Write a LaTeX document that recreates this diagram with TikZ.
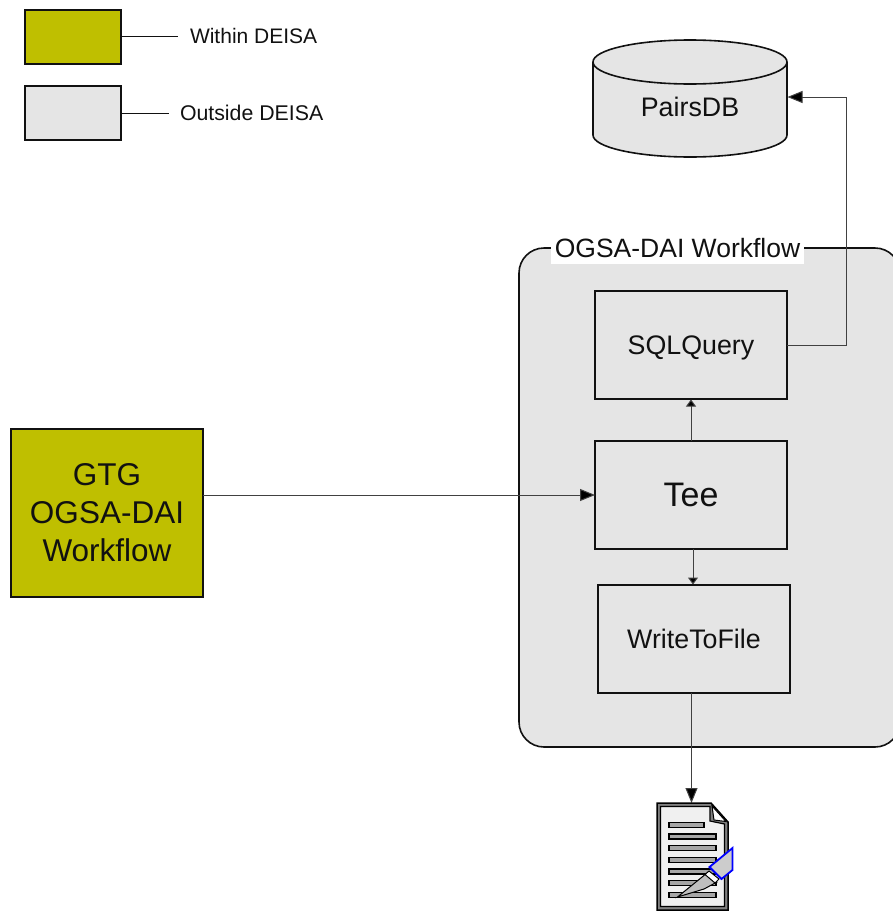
\documentclass[tikz,border=0pt]{standalone}
\usepackage{fontspec}
\setmainfont{Liberation Sans}
\usetikzlibrary{arrows.meta}
\definecolor{olivebox}{HTML}{BFBF00}
\definecolor{graybox}{HTML}{E5E5E5}
\definecolor{ink}{HTML}{111111}
\tikzset{
  x=1pt,y=-1pt,
  boxbase/.style={draw=ink,line width=1.6pt,inner sep=0pt,outer sep=0pt,text=ink,align=center},
  graystep/.style={boxbase,fill=graybox,minimum width=192pt,minimum height=108pt},
  legendolive/.style={boxbase,fill=olivebox,minimum width=96pt,minimum height=54pt},
  legendgray/.style={boxbase,fill=graybox,minimum width=96pt,minimum height=54pt},
  legendtext/.style={inner sep=0pt,outer sep=0pt,text=ink,font=\fontsize{21}{25}\selectfont},
  legendwide/.style={legendtext,font=\fontsize{21.3}{25}\selectfont},
  steptext/.style={font=\fontsize{26.8}{32}\selectfont},
  bigtext/.style={font=\fontsize{31.5}{38}\selectfont},
  teetext/.style={font=\fontsize{34}{40}\selectfont},
  link/.style={draw=ink!80,line width=1pt},
  bigarrow/.style={link,-{Triangle[length=15pt,width=12pt,fill=black]}},
  smallarrow/.style={link,-{Triangle[length=7pt,width=10pt,fill=black]}},
  docline/.style={draw=black,fill=gray!70,line width=1.3pt},
}
\begin{document}
\begin{tikzpicture}
\useasboundingbox (0,0) rectangle (893,911);
% workflow container
\draw[draw=ink,line width=1.6pt,fill=graybox,rounded corners=25pt] (519,248) rectangle (900,747);
\node[fill=white,minimum width=253pt,minimum height=27pt,inner sep=0pt,text=ink,font=\fontsize{26.5}{32}\selectfont] (title) at (677.5,250.5) {\raisebox{5pt}{OGSA-DAI Workflow}};
% legend
\node[legendolive] (legA) at (73,37) {};
\node[legendgray] (legB) at (73,113) {};
\node[legendtext,anchor=west] (legAtext) at (190,36) {Within DEISA};
\node[legendwide,anchor=west] (legBtext) at (180,113) {Outside DEISA};
\coordinate (legAend) at (178,36);
\coordinate (legBend) at (169,113);
\draw[line width=1pt,draw=ink] (legA.east |- legAend) -- (legAend);
\draw[line width=1pt,draw=ink] (legB.east |- legBend) -- (legBend);
% database
\draw[draw=ink,line width=1.6pt,fill=graybox] (593,62) -- (593,135)
  arc[start angle=180,end angle=360,x radius=97,y radius=-22] -- (787,62)
  arc[start angle=0,end angle=180,x radius=97,y radius=-22] -- cycle;
\draw[draw=ink,line width=1.6pt] (593,62) arc[start angle=180,end angle=360,x radius=97,y radius=-22];
\node[inner sep=0pt,text=ink,steptext] (db) at (690,107) {PairsDB};
\coordinate (dbin) at (787.5,97);
% steps
\node[graystep,steptext,text depth=0pt] (sql) at (691,345) {\raisebox{-1pt}{SQLQuery}};
\node[graystep,teetext] (tee) at (691,495) {Tee};
\node[graystep,steptext] (wtf) at (694,639) {WriteToFile};
\node[boxbase,fill=olivebox,minimum width=192pt,minimum height=168pt,bigtext] (gtg) at (107,513) {\raisebox{1pt}{GTG}\\[0pt]\raisebox{1pt}{OGSA-DAI}\\[0pt]\raisebox{1pt}{Workflow}};
% connectors
\coordinate (teeup) at (691,441);
\coordinate (sqldown) at (691,399.5);
\coordinate (teedown) at (693,549);
\coordinate (wtftop) at (693,584.5);
\coordinate (wtfout) at (691.5,693);
\coordinate (docin) at (691.5,803);
\coordinate (elbowA) at (846,345);
\coordinate (elbowB) at (846,97);
\draw[bigarrow] (gtg.east |- tee.west) -- (tee.west);
\draw[smallarrow] (teeup) -- (sqldown);
\draw[smallarrow] (teedown) -- (wtftop);
\draw[bigarrow] (wtfout) -- (docin);
\draw[bigarrow] (sql.east) -- (elbowA) -- (elbowB) -- (dbin);
% document icon
\draw[draw=black,line width=1.5pt,fill=black!50] (657,803) -- (711,803) -- (728,822) -- (728,910) -- (657,910) -- cycle;
\draw[draw=black,line width=1.2pt,fill=black!6] (660.5,806.5) -- (710,806.5) -- (710,821) -- (724.5,824) -- (724.5,906.5) -- (660.5,906.5) -- cycle;
\draw[draw=black,line width=1pt,fill=white] (712,806) -- (726,821.5) -- (714,820) -- cycle;
\draw[docline] (669,822.5) rectangle (704,827.5);
\foreach \yy in {836.5,848,860,871.5,883,895}
  \draw[docline] (669,\yy-2.5) rectangle (716,\yy+2.5);
\draw[draw=black,line width=1pt,fill=black!25] (677.5,897) -- (707,873) -- (717,882) -- (704,889) -- cycle;
\draw[draw=black,line width=1pt,fill=white] (705,874.5) -- (709,871) -- (719,879) -- (715,883) -- cycle;
\draw[draw=blue,line width=1.8pt,fill=black!20] (709.5,867) -- (732.5,848) -- (732.5,870) -- (721.5,879) -- cycle;
\end{tikzpicture}
\end{document}
